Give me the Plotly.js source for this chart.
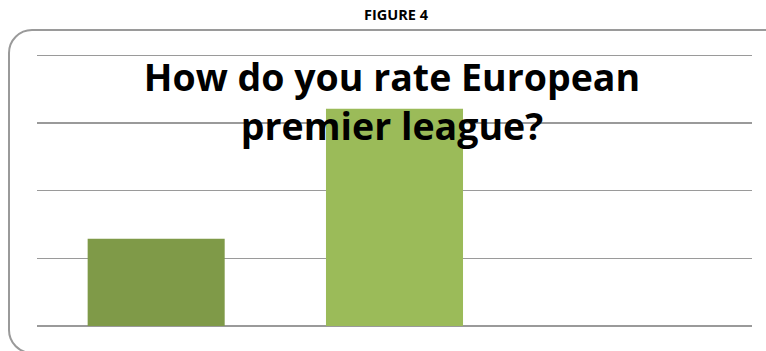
<!DOCTYPE html>
<html>
<head>
<meta charset="utf-8">
<script src="https://cdn.plot.ly/plotly-3.0.1.min.js"></script>
<style>
html,body{margin:0;padding:0;background:#fff;}
#wrap{position:relative;width:766px;height:351px;overflow:hidden;}
#frame{position:absolute;left:8px;top:28.5px;width:790px;height:325px;border:2px solid #9a9a9a;border-radius:24px;box-sizing:border-box;}
#figlabel{position:absolute;left:0;top:5px;width:792px;text-align:center;font-family:"Open Sans",sans-serif;font-weight:bold;font-size:14.5px;line-height:normal;color:#000;}
#chart{position:absolute;left:0;top:0;width:766px;height:351px;}
</style>
</head>
<body>
<div id="wrap">
<div id="frame"></div>
<div id="figlabel">FIGURE 4</div>
<div id="chart"></div>
</div>
<script>
var categories = ["A", "B", "C"];
var values = [12.9, 32.1, null];
var barColors = ["#7F9A48", "#9BBB59", "#9BBB59"];
var titleText = "How do you rate European<br>premier league?";

var trace = {
  type: "bar",
  x: categories,
  y: values,
  marker: {color: barColors},
  hoverinfo: "none"
};

var layout = {
  width: 766,
  height: 351,
  margin: {l: 37, r: 14, t: 54.15, b: 24.5},
  paper_bgcolor: "rgba(0,0,0,0)",
  plot_bgcolor: "rgba(0,0,0,0)",
  bargap: 0.425,
  showlegend: false,
  title: {
    text: titleText,
    font: {family: "Open Sans", size: 37.5, color: "#000", weight: "bold"},
    x: 0.5117, xanchor: "center",
    y: 0.74, yanchor: "middle"
  },
  xaxis: {
    showticklabels: false, showgrid: false, zeroline: false, showline: false,
    ticks: ""
  },
  yaxis: {
    range: [0, 40.2], dtick: 10, showticklabels: false,
    showgrid: true, gridcolor: "#9a9a9a", gridwidth: 1.5,
    zeroline: true, zerolinecolor: "#9a9a9a", zerolinewidth: 1.5,
    showline: false, ticks: ""
  }
};

Plotly.newPlot("chart", [trace], layout, {displayModeBar: false, staticPlot: true});
</script>
</body>
</html>
